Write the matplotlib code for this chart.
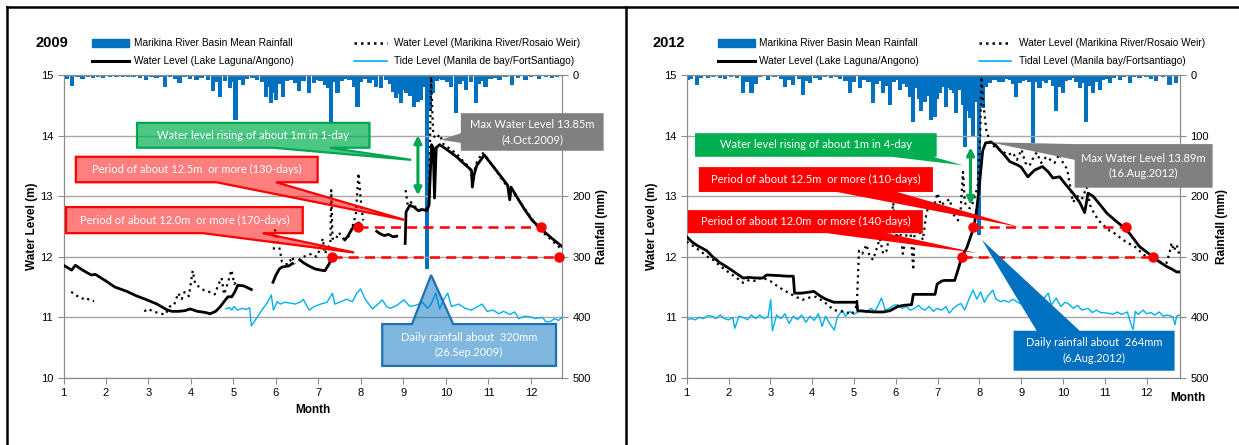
import matplotlib
matplotlib.use("Agg")
import matplotlib.pyplot as plt
import numpy as np
from matplotlib.patches import Polygon, Rectangle
from matplotlib.lines import Line2D

plt.rcParams['font.family'] = ['Liberation Sans', 'DejaVu Sans']

W, H = 1239, 445
GAP = (np.nan, np.nan)

# ---------------- data 2009 ----------------
rain_2009 = [(1.07, 6), (1.20, 18), (1.33, 4), (1.45, 6), (1.58, 3), (1.70, 5), (1.82, 3), (1.93, 5),
             (2.10, 3), (2.25, 4), (2.40, 3), (2.52, 4), (2.65, 3), (2.80, 5), (2.95, 8), (3.07, 4),
             (3.19, 5), (3.30, 3), (3.38, 19), (3.50, 4), (3.62, 6), (3.73, 13), (3.85, 4), (3.98, 6),
             (4.13, 8), (4.25, 5), (4.40, 9), (4.52, 27), (4.60, 12), (4.69, 36), (4.80, 10), (4.91, 22),
             (4.98, 12), (5.05, 74), (5.13, 8), (5.22, 17), (5.32, 6), (5.45, 5), (5.55, 8), (5.67, 12),
             (5.77, 36), (5.83, 20), (5.89, 47), (5.95, 30), (6.00, 41), (6.08, 15), (6.16, 36), (6.25, 10),
             (6.35, 8), (6.45, 14), (6.55, 27), (6.65, 10), (6.78, 29), (6.90, 14), (6.97, 8), (7.05, 10),
             (7.15, 16), (7.22, 22), (7.30, 77), (7.38, 12), (7.45, 30), (7.55, 10), (7.65, 6), (7.73, 8),
             (7.85, 20), (7.92, 52), (8.00, 12), (8.10, 6), (8.20, 14), (8.28, 9), (8.35, 19), (8.47, 22),
             (8.58, 8), (8.68, 15), (8.76, 28), (8.83, 38), (8.90, 32), (8.94, 47), (9.00, 25), (9.06, 30),
             (9.15, 35), (9.25, 52), (9.33, 44), (9.41, 41), (9.48, 20), (9.56, 320), (9.63, 60), (9.68, 30),
             (9.78, 10), (9.85, 6), (9.92, 8), (10.02, 12), (10.12, 20), (10.23, 63), (10.32, 15), (10.40, 10),
             (10.47, 25), (10.58, 12), (10.70, 47), (10.78, 15), (10.85, 10), (10.93, 19), (11.05, 6), (11.15, 5),
             (11.26, 8), (11.40, 4), (11.56, 17), (11.70, 5), (11.87, 8), (12.00, 4), (12.19, 6), (12.35, 3),
             (12.50, 5), (12.62, 4)]

laguna_2009 = [(1.0, 11.86), (1.10, 11.82), (1.19, 11.78), (1.28, 11.86), (1.45, 11.78), (1.65, 11.70),
               (1.75, 11.71), (2.0, 11.60), (2.21, 11.50), (2.49, 11.43), (2.7, 11.36), (2.96, 11.29),
               (3.2, 11.22), (3.42, 11.13), (3.55, 11.10), (3.70, 11.10), (3.85, 11.11), (3.98, 11.14),
               (4.15, 11.10), (4.35, 11.08), (4.45, 11.06), (4.58, 11.10), (4.68, 11.17), (4.80, 11.28),
               (4.87, 11.34), (4.96, 11.34), (5.03, 11.42), (5.10, 11.53), (5.24, 11.52), (5.42, 11.46), GAP,
               (5.93, 11.58), (6.0, 11.70), (6.08, 11.80), (6.14, 11.83), (6.30, 11.85), (6.39, 11.89), GAP,
               (6.56, 11.95), (6.65, 11.90), (6.80, 11.84), (6.92, 11.80), (7.05, 11.78), (7.15, 11.77),
               (7.25, 11.88), (7.31, 12.01), GAP,
               (7.62, 12.28), (7.70, 12.35), (7.78, 12.45), (7.85, 12.52), (7.95, 12.56), (8.02, 12.50), GAP,
               (8.37, 12.42), (8.45, 12.38), (8.55, 12.35), (8.65, 12.37), (8.75, 12.33), (8.84, 12.34), GAP,
               (9.04, 12.22), (9.06, 12.74), (9.15, 12.85), (9.25, 12.82), (9.35, 12.76), (9.45, 12.78),
               (9.55, 12.76), (9.60, 12.85), (9.66, 13.85), (9.70, 13.80), (9.73, 12.97), (9.77, 13.80),
               (9.85, 13.85), (10.0, 13.78), (10.25, 13.65), (10.45, 13.52), (10.6, 13.43), (10.62, 13.15),
               (10.66, 13.35), (10.72, 13.50), (10.9, 13.68), (11.1, 13.50), (11.3, 13.32), (11.45, 13.18),
               (11.5, 12.94), (11.53, 13.15), (11.7, 12.95), (11.85, 12.78), (12.03, 12.60), (12.27, 12.44),
               (12.5, 12.30), (12.73, 12.17)]

marikina_2009 = [(1.0, 11.42), GAP, (1.18, 11.42), (1.28, 11.38), (1.36, 11.33), (1.45, 11.31), (1.52, 11.33),
                 (1.62, 11.28), (1.72, 11.27), GAP,
                 (2.9, 11.10), (3.0, 11.14), (3.1, 11.10), (3.2, 11.08), (3.3, 11.06), (3.4, 11.05), (3.5, 11.18),
                 (3.6, 11.20), (3.7, 11.40), (3.78, 11.30), (3.85, 11.42), (3.95, 11.35), (4.04, 11.77),
                 (4.1, 11.55), (4.2, 11.50), (4.3, 11.45), (4.4, 11.43), (4.5, 11.40), (4.56, 11.38),
                 (4.65, 11.55), (4.72, 11.65), (4.78, 11.38), (4.88, 11.60), (4.95, 11.78), (5.02, 11.55),
                 (5.1, 11.62), GAP,
                 (5.95, 12.12), (5.98, 12.44), (6.03, 12.30), (6.08, 12.15), (6.14, 11.92), (6.22, 11.88),
                 (6.3, 11.88), (6.38, 12.00), (6.45, 11.88), GAP,
                 (6.65, 12.0), (6.75, 12.03), (6.85, 12.05), (6.95, 12.00), (7.02, 12.10), (7.10, 12.30),
                 (7.15, 12.05), (7.22, 12.15), (7.28, 12.20), (7.30, 13.10), (7.33, 12.30), (7.40, 12.28),
                 (7.48, 12.40), (7.58, 12.30), (7.68, 12.30), (7.78, 12.45), (7.88, 12.70), (7.94, 13.38),
                 (8.0, 12.90), (8.05, 12.60), GAP,
                 (9.05, 13.10), (9.10, 12.85), (9.18, 12.90), (9.28, 12.82), (9.40, 12.78), (9.52, 12.78),
                 (9.60, 12.85), (9.65, 14.97), (9.70, 14.00), (9.78, 13.95), (9.85, 14.02), (9.95, 13.85),
                 (10.1, 13.78), (10.25, 13.70), (10.4, 13.58), (10.55, 13.48), (10.62, 13.30), (10.72, 13.55),
                 (10.85, 13.72), (10.95, 13.65), (11.1, 13.50), (11.3, 13.30), (11.45, 13.15), (11.52, 13.02),
                 (11.6, 13.05), (11.8, 12.85), (12.0, 12.65), (12.2, 12.45), (12.4, 12.33), (12.6, 12.20),
                 (12.73, 12.12)]

tide_2009 = [(4.82, 11.14), (4.9, 11.16), (4.96, 11.12), (5.01, 11.18), (5.1, 11.12), (5.2, 11.15), (5.3, 11.13),
             (5.38, 11.16), (5.42, 10.86), (5.6, 11.05), (5.8, 11.25), (5.89, 11.37), (5.94, 11.12), (6.03, 11.26),
             (6.1, 11.22), (6.2, 11.25), (6.31, 11.24), (6.45, 11.22), (6.59, 11.26), (6.64, 11.30), (6.78, 11.12),
             (6.9, 11.18), (7.05, 11.22), (7.2, 11.25), (7.33, 11.40), (7.38, 11.22), (7.5, 11.25), (7.66, 11.30),
             (7.8, 11.26), (7.9, 11.40), (7.99, 11.47), (8.1, 11.30), (8.27, 11.14), (8.4, 11.22), (8.5, 11.29),
             (8.6, 11.18), (8.69, 11.15), (8.85, 11.20), (9.01, 11.29), (9.15, 11.18), (9.29, 11.20), (9.45, 11.25),
             (9.57, 11.15), (9.65, 11.22), (9.76, 11.40), (9.85, 11.14), (9.95, 11.30), (10.04, 11.40),
             (10.13, 11.18), (10.3, 11.22), (10.45, 11.15), (10.59, 11.12), (10.75, 11.18), (10.85, 11.22),
             (10.97, 11.10), (11.1, 11.12), (11.25, 11.06), (11.35, 11.10), (11.5, 11.05), (11.62, 11.09),
             (11.71, 10.98), (11.85, 11.02), (11.99, 11.01), (12.1, 10.98), (12.27, 11.00), (12.35, 10.93),
             (12.46, 10.93), (12.55, 10.98), (12.65, 10.95), (12.74, 11.01)]

# level, start month, end month
periods_2009 = [(12.5, 7.92, 12.24), (12.0, 7.31, 12.66)]

# ---------------- data 2012 ----------------
rain_2012 = [(1.03, 8), (1.10, 6), (1.24, 16), (1.35, 5), (1.50, 5), (1.62, 4), (1.80, 5), (1.92, 6), (2.05, 3),
             (2.20, 5), (2.35, 30), (2.45, 12), (2.55, 30), (2.65, 15), (2.75, 4), (2.94, 8), (3.10, 4), (3.25, 6),
             (3.35, 19), (3.45, 8), (3.55, 16), (3.68, 6), (3.79, 33), (3.87, 10), (3.95, 14), (4.08, 5), (4.19, 8),
             (4.30, 4), (4.45, 5), (4.58, 3), (4.67, 6), (4.80, 10), (4.90, 30), (5.00, 12), (5.14, 22), (5.25, 8),
             (5.35, 12), (5.46, 47), (5.55, 15), (5.62, 10), (5.70, 30), (5.78, 18), (5.86, 49), (5.95, 12),
             (6.02, 8), (6.10, 25), (6.20, 15), (6.28, 20), (6.34, 36), (6.42, 77), (6.50, 22), (6.57, 40),
             (6.61, 60), (6.69, 44), (6.77, 35), (6.85, 74), (6.93, 70), (6.99, 40), (7.05, 30), (7.13, 20),
             (7.21, 52), (7.28, 22), (7.33, 25), (7.40, 30), (7.45, 63), (7.53, 25), (7.60, 50), (7.65, 118),
             (7.71, 60), (7.77, 71), (7.85, 102), (7.93, 45), (7.99, 264), (8.08, 55), (8.16, 20), (8.25, 14),
             (8.33, 8), (8.41, 8), (8.48, 12), (8.56, 12), (8.65, 6), (8.73, 8), (8.80, 15), (8.88, 36), (8.97, 14),
             (9.05, 10), (9.12, 8), (9.20, 12), (9.28, 113), (9.36, 12), (9.44, 22), (9.52, 10), (9.60, 14),
             (9.70, 8), (9.76, 18), (9.84, 60), (9.92, 20), (10.00, 30), (10.08, 10), (10.16, 8), (10.25, 5),
             (10.32, 12), (10.40, 22), (10.48, 14), (10.56, 77), (10.63, 18), (10.72, 30), (10.80, 12),
             (10.88, 25), (10.95, 8), (11.05, 6), (11.12, 14), (11.22, 5), (11.36, 8), (11.45, 4), (11.60, 14),
             (11.70, 4), (11.83, 5), (12.00, 4), (12.10, 6), (12.23, 10), (12.40, 4), (12.55, 16), (12.71, 14)]

laguna_2012 = [(1.0, 12.33), (1.12, 12.25), (1.24, 12.19), (1.35, 12.15), (1.48, 12.10), (1.62, 12.0), (1.80, 11.90),
               (1.92, 11.85), (2.03, 11.80), (2.2, 11.72), (2.35, 11.65), (2.5, 11.66), (2.65, 11.65), (2.82, 11.65),
               (2.91, 11.70), (3.2, 11.69), (3.4, 11.68), (3.55, 11.68), (3.58, 11.40), (3.75, 11.40), (3.96, 11.42),
               (4.04, 11.43), (4.2, 11.35), (4.33, 11.30), (4.52, 11.25), (4.8, 11.25), (5.07, 11.25), (5.09, 11.11),
               (5.3, 11.10), (5.48, 11.09), (5.7, 11.09), (5.86, 11.11), (6.05, 11.18), (6.2, 11.20), (6.38, 11.21),
               (6.42, 11.38), (6.7, 11.38), (6.94, 11.38), (6.99, 11.55), (7.1, 11.60), (7.17, 11.61), (7.41, 11.61),
               (7.51, 11.83), (7.58, 12.0), (7.7, 12.15), (7.8, 12.35), (7.87, 12.49), (7.94, 12.8), (7.99, 13.1),
               (8.08, 13.75), (8.15, 13.88), (8.29, 13.89), (8.38, 13.85), (8.49, 13.76), (8.6, 13.68),
               (8.73, 13.57), (8.9, 13.52), (9.0, 13.48), (9.16, 13.32), (9.32, 13.43), (9.51, 13.49),
               (9.65, 13.40), (9.76, 13.30), (9.92, 13.32), (10.08, 13.18), (10.24, 13.05), (10.4, 12.90),
               (10.52, 12.73), (10.6, 13.05), (10.72, 13.00), (10.9, 12.85), (11.05, 12.72), (11.25, 12.60),
               (11.43, 12.50), (11.6, 12.38), (11.83, 12.17), (12.0, 12.08), (12.15, 12.0), (12.3, 11.92),
               (12.48, 11.84), (12.6, 11.80), (12.72, 11.75), (12.8, 11.75)]

marikina_2012 = [(1.0, 12.25), (1.15, 12.18), (1.32, 12.10), (1.5, 12.0), (1.63, 11.95), (1.8, 11.85), (2.03, 11.73),
                 (2.2, 11.65), (2.35, 11.57), (2.5, 11.62), (2.65, 11.60), (2.8, 11.66), (3.0, 11.60), (3.2, 11.50),
                 (3.4, 11.42), (3.58, 11.35), (3.77, 11.29), (3.95, 11.33), (4.1, 11.34), (4.3, 11.25), (4.52, 11.12),
                 (4.7, 11.10), (4.81, 11.09), (4.95, 11.05), (5.07, 11.20), (5.12, 12.10), (5.2, 12.05), (5.3, 12.20),
                 (5.38, 12.0), (5.46, 11.95), (5.55, 12.15), (5.62, 12.30), (5.7, 12.05), (5.78, 12.10), (5.86, 12.40),
                 (5.94, 12.89), (6.02, 12.30), (6.1, 12.45), (6.17, 12.05), (6.26, 12.38), (6.34, 12.55),
                 (6.42, 11.78), (6.45, 12.40), (6.55, 12.45), (6.65, 12.28), (6.73, 12.70), (6.81, 12.90),
                 (6.89, 12.77), (7.0, 13.05), (7.08, 12.85), (7.17, 12.90), (7.29, 12.95), (7.38, 12.70),
                 (7.49, 12.60), (7.55, 12.75), (7.61, 13.40), (7.65, 12.90), (7.69, 12.85), (7.77, 12.80),
                 (7.85, 12.90), (7.96, 13.16), (8.02, 14.0), (8.05, 14.97), (8.1, 14.5), (8.17, 14.07),
                 (8.29, 13.85), (8.4, 13.80), (8.56, 13.74), (8.68, 13.68), (8.8, 13.72), (8.9, 13.60),
                 (9.01, 13.77), (9.1, 13.55), (9.2, 13.50), (9.28, 13.62), (9.37, 13.72), (9.48, 13.55),
                 (9.6, 13.65), (9.7, 13.60), (9.8, 13.55), (9.92, 13.70), (10.0, 13.55), (10.1, 13.45),
                 (10.24, 12.90), (10.35, 13.00), (10.45, 12.95), (10.57, 13.15), (10.65, 12.85), (10.72, 12.75),
                 (10.85, 12.60), (11.0, 12.50), (11.12, 12.43), (11.25, 12.38), (11.36, 12.32), (11.5, 12.25),
                 (11.63, 12.20), (11.76, 12.15), (11.9, 12.05), (12.05, 11.98), (12.15, 12.0), (12.3, 11.92),
                 (12.48, 11.90), (12.56, 12.10), (12.6, 12.23), (12.65, 12.10), (12.72, 12.20), (12.78, 12.05)]

tide_2012 = [(1.0, 10.96), (1.1, 10.98), (1.2, 10.96), (1.3, 11.0), (1.4, 10.98), (1.5, 11.03), (1.6, 11.02),
             (1.7, 10.98), (1.8, 11.04), (1.9, 10.98), (2.0, 10.96), (2.1, 11.0), (2.15, 10.82), (2.25, 11.02),
             (2.35, 11.0), (2.45, 10.96), (2.55, 11.04), (2.65, 10.98), (2.75, 11.04), (2.85, 10.98), (2.95, 11.02),
             (3.01, 11.29), (3.05, 10.78), (3.15, 11.04), (3.25, 10.98), (3.35, 11.06), (3.45, 10.9), (3.55, 11.02),
             (3.65, 10.96), (3.75, 11.04), (3.85, 10.92), (3.95, 11.02), (4.05, 10.95), (4.15, 11.06), (4.24, 10.85),
             (4.32, 11.02), (4.42, 10.9), (4.53, 10.79), (4.6, 11.0), (4.72, 11.12), (4.8, 11.02), (4.9, 11.10),
             (5.0, 11.05), (5.1, 11.09), (5.2, 11.12), (5.3, 11.08), (5.4, 11.15), (5.5, 11.10), (5.58, 11.20),
             (5.66, 11.32), (5.75, 11.12), (5.85, 11.15), (5.95, 11.20), (6.04, 11.21), (6.15, 11.15), (6.25, 11.18),
             (6.35, 11.12), (6.45, 11.15), (6.55, 11.20), (6.61, 11.15), (6.7, 11.12), (6.8, 11.18), (6.9, 11.10),
             (6.99, 11.15), (7.1, 11.12), (7.2, 11.18), (7.28, 11.07), (7.38, 11.15), (7.47, 11.20), (7.56, 11.23),
             (7.65, 11.12), (7.75, 11.30), (7.85, 11.45), (7.94, 11.30), (8.03, 11.42), (8.12, 11.25), (8.2, 11.35),
             (8.32, 11.45), (8.4, 11.30), (8.51, 11.26), (8.6, 11.28), (8.7, 11.25), (8.8, 11.30), (8.89, 11.26),
             (9.0, 11.22), (9.1, 11.20), (9.17, 11.09), (9.3, 11.25), (9.4, 11.20), (9.5, 11.28), (9.65, 11.40),
             (9.72, 11.20), (9.84, 11.32), (9.95, 11.18), (10.05, 11.25), (10.12, 11.23), (10.25, 11.15),
             (10.35, 11.20), (10.45, 11.12), (10.6, 11.15), (10.7, 11.08), (10.8, 11.12), (10.9, 11.08),
             (11.07, 11.07), (11.2, 11.05), (11.3, 11.09), (11.4, 11.05), (11.54, 11.09), (11.64, 10.86),
             (11.68, 10.80), (11.73, 11.10), (11.8, 11.05), (11.92, 11.12), (12.0, 11.06), (12.1, 11.08),
             (12.2, 11.04), (12.3, 11.09), (12.4, 11.02), (12.5, 11.04), (12.63, 11.01), (12.68, 10.88),
             (12.72, 11.02), (12.78, 11.04)]

periods_2012 = [(12.5, 7.84, 11.52), (12.0, 7.58, 12.15)]

months = list(range(1, 13))
rain_ticks = [0, 100, 200, 300, 400, 500]

BLUE = '#0070C0'
CYAN = '#00B0F0'
RED = '#FF0000'
GREEN = '#00B050'
GRAY = '#808080'
AXIS_GRAY = '#8C8C8C'


def xy(pares):
    arr = np.array(pares, dtype=float)
    return arr[:, 0], arr[:, 1]


def px(x, y):
    return x / W, 1 - y / H


def callout(ax, box, side, base, tip, texto, face, edge, alpha=1.0):
    x0, x1, y0, y1 = box
    b1, b2 = base
    if side == 'bottom':
        pts = [(x0, y1), (x1, y1), (x1, y0), (b2, y0), tip, (b1, y0), (x0, y0)]
    elif side == 'top':
        pts = [(x0, y0), (x1, y0), (x1, y1), (b2, y1), tip, (b1, y1), (x0, y1)]
    else:
        pts = [(x0, y1), (x0, b2), tip, (x0, b1), (x0, y0), (x1, y0), (x1, y1)]
    fc = matplotlib.colors.to_rgba(face, alpha)
    ax.add_patch(Polygon(pts, closed=True, facecolor=fc, edgecolor=edge, lw=1.6 if edge != 'none' else 0,
                         zorder=6, clip_on=False, joinstyle='miter'))
    ax.text((x0 + x1) / 2, (y0 + y1) / 2, texto, ha='center', va='center', color='white',
            fontsize=8, family=['Lato', 'DejaVu Sans'], zorder=7, linespacing=1.5, clip_on=False)


def dibujar_leyenda(fig, x_a, x_b, x_c, x_d, x_txt1, x_txt2, texto_tide):
    y1, y2 = 43, 61
    fig.add_artist(Rectangle(px(x_a, y1 + 4), (x_b - x_a) / W, 8 / H, color=BLUE, transform=fig.transFigure))
    fig.add_artist(Line2D([x_c / W, x_d / W], [1 - y1 / H] * 2, color='k', lw=1.8, ls=(0, (1, 1.6))))
    fig.add_artist(Line2D([x_a / W, x_b / W], [1 - y2 / H] * 2, color='k', lw=2.2))
    fig.add_artist(Line2D([x_c / W, x_d / W], [1 - y2 / H] * 2, color=CYAN, lw=1.2))
    fig.text(*px(x_txt1, y1), 'Marikina River Basin Mean Rainfall', va='center', fontsize=7.3)
    fig.text(*px(x_txt2, y1), 'Water Level (Marikina River/Rosaio Weir)', va='center', fontsize=7.3)
    fig.text(*px(x_txt1, y2), 'Water Level (Lake Laguna/Angono)', va='center', fontsize=7.3)
    fig.text(*px(x_txt2, y2), texto_tide, va='center', fontsize=7.3)


def graficar_panel(fig, rect, xmax, lluvia, laguna, marikina, marea, periodos, xlabel_pos, ylabel_x,
                   etiquetas_lluvia):
    ax = fig.add_axes(rect)
    ax2 = ax.twinx()
    ax.set_zorder(ax2.get_zorder() + 1)
    ax.patch.set_visible(False)

    lx, ly = xy(lluvia)
    ax2.bar(lx, ly, width=0.1, color=BLUE, linewidth=0)
    ax2.set_ylim(500, 0)
    ax2.set_yticks(rain_ticks)
    ax2.set_yticklabels(etiquetas_lluvia)

    x, y = xy(marea)
    ax.plot(x, y, color=CYAN, lw=1.0, zorder=3)
    x, y = xy(marikina)
    ax.plot(x, y, color='k', lw=1.6, ls=(0, (1, 1.8)), zorder=4)
    x, y = xy(laguna)
    ax.plot(x, y, color='k', lw=2.0, zorder=4)

    for nivel, ini, fin in periodos:
        ax.plot([ini, fin], [nivel, nivel], color=RED, lw=1.8, ls=(0, (4, 2.5)), zorder=5)
        ax.plot([ini, fin], [nivel, nivel], 'o', color=RED, ms=6.5, zorder=5, clip_on=False)

    ax.set_xlim(1, xmax)
    ax.set_ylim(10, 15)
    ax.set_xticks(months)
    ax.set_yticks([10, 11, 12, 13, 14, 15])
    ax.yaxis.grid(True, color='#A6A6A6', lw=1)
    ax.set_axisbelow(True)

    for a in (ax, ax2):
        for s in a.spines.values():
            s.set_color(AXIS_GRAY)
        a.tick_params(direction='out', length=4, color=AXIS_GRAY, labelsize=8)

    ax.set_xlabel('Month', fontweight='bold', fontsize=8.5)
    ax.xaxis.set_label_coords(*xlabel_pos)
    ax.set_ylabel('Water Level (m)', fontweight='bold', fontsize=8.5)
    ax.yaxis.set_label_coords(ylabel_x[0], 0.5)
    ax2.set_ylabel('Rainfall (mm)', fontweight='bold', fontsize=8.5)
    ax2.yaxis.set_label_coords(ylabel_x[1], 0.5)
    return ax


def generar_figura():
    fig = plt.figure(figsize=(W / 100, H / 100), dpi=100)

    # marcos
    fig.add_artist(Line2D([7 / W, 7 / W], [0, 1 - 7 / H], color='k', lw=1.8))
    fig.add_artist(Line2D([7 / W, 1], [1 - 7 / H] * 2, color='k', lw=1.8))
    fig.add_artist(Line2D([626 / W, 626 / W], [0, 1 - 7 / H], color='k', lw=1.8))

    # ---------- 2009 ----------
    # el "100" queda tapado por el recuadro gris en el original
    ax = graficar_panel(fig, [63.5 / W, 1 - 378 / H, 498.5 / W, 303 / H], 12.73,
                        rain_2009, laguna_2009, marikina_2009, tide_2009, periods_2009,
                        (0.50, -0.085), (-0.052, 1.068), ['0', '', '200', '300', '400', '500'])
    fig.text(*px(36, 43), '2009', fontweight='bold', fontsize=10.5, va='center')
    dibujar_leyenda(fig, 92, 129, 354, 387, 134, 394, 'Tide Level (Manila de bay/FortSantiago)')

    callout(ax, (2.73, 8.20, 13.80, 14.21), 'bottom', (5.93, 7.27), (9.18, 13.60),
            'Water level rising of about 1m in 1-day', GREEN, '#00A650', 0.7)
    callout(ax, (1.29, 6.98, 13.23, 13.65), 'bottom', (4.6, 6.0), (9.02, 12.61),
            'Period of about 12.5m  or more (130-days)', RED, RED, 0.5)
    callout(ax, (1.06, 6.63, 12.39, 12.82), 'bottom', (4.28, 5.69), (7.84, 12.07),
            'Period of about 12.0m  or more (170-days)', RED, RED, 0.5)
    callout(ax, (10.35, 13.71, 13.75, 14.37), 'left', (13.88, 14.04), (9.88, 13.93),
            'Max Water Level 13.85m\n(4.Oct.2009)', GRAY, 'none')
    callout(ax, (8.50, 12.59, 10.20, 10.89), 'top', (9.20, 10.17), (9.65, 11.70),
            'Daily rainfall about  320mm\n(26.Sep.2009)', BLUE, '#1F6FB8', 0.5)
    ax.annotate('', xy=(9.34, 12.97), xytext=(9.34, 14.05),
                arrowprops=dict(arrowstyle='<|-|>', color='#00A650', lw=2.2, mutation_scale=11), zorder=8)

    # ---------- 2012 ----------
    ax = graficar_panel(fig, [686.7 / W, 1 - 378 / H, 493.3 / W, 303 / H], 12.8,
                        rain_2012, laguna_2012, marikina_2012, tide_2012, periods_2012,
                        (1.015, -0.045), (-0.058, 1.072), [str(t) for t in rain_ticks])
    fig.text(*px(652, 43), '2012', fontweight='bold', fontsize=10.5, va='center')
    dibujar_leyenda(fig, 718, 755, 979, 1011, 759, 1019, 'Tidal Level (Manila bay/Fortsantiago)')

    callout(ax, (1.20, 6.98, 13.65, 14.04), 'bottom', (5.9, 6.9), (7.61, 13.51),
            'Water level rising of about 1m in 4-day', GREEN, 'none')
    callout(ax, (1.29, 6.89, 13.07, 13.48), 'bottom', (4.59, 6.03), (8.96, 12.49),
            'Period of about 12.5m  or more (110-days)', RED, 'none')
    callout(ax, (1.03, 6.65, 12.39, 12.77), 'bottom', (4.35, 5.78), (7.96, 12.06),
            'Period of about 12.0m  or more (140-days)', RED, 'none')
    callout(ax, (10.28, 13.58, 13.14, 13.86), 'left', (13.60, 13.86), (8.25, 13.89),
            'Max Water Level 13.89m\n(16.Aug.2012)', GRAY, 'none')
    callout(ax, (8.82, 12.67, 10.12, 10.78), 'top', (9.37, 10.40), (8.06, 12.28),
            'Daily rainfall about  264mm\n(6.Aug.2012)', BLUE, 'none')
    ax.annotate('', xy=(7.79, 12.81), xytext=(7.79, 13.85),
                arrowprops=dict(arrowstyle='<|-|>', color='#00A650', lw=2.2, mutation_scale=11), zorder=8)

    fig.savefig('out.png', dpi=100)


generar_figura()
